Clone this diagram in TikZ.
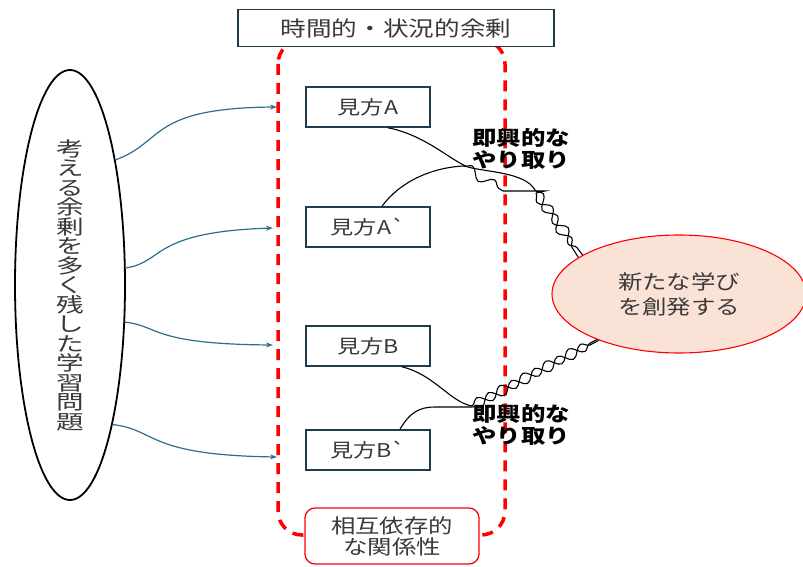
\documentclass[tikz,border=0pt]{standalone}
\usepackage{fontspec}
\setmainfont{Noto Sans CJK JP}[FakeStretch=1.22, Ligatures=TeXOff]
\newfontfamily\vfont{Noto Sans CJK JP}[FakeStretch=1.38]
\usetikzlibrary{shapes.geometric,arrows.meta,decorations.pathmorphing}
\definecolor{boxc}{HTML}{203C4C}
\definecolor{arrc}{HTML}{2C6E8F}
\definecolor{peach}{HTML}{FBE2D6}
\definecolor{txt}{HTML}{3A3A3A}
\begin{document}
\begin{tikzpicture}[x=1pt,y=-1pt,
  viewbox/.style={draw=boxc, line width=1.6pt, fill=white, minimum width=124pt, minimum height=40pt, inner sep=0pt, font=\fontsize{19}{22}\selectfont, text=txt},
  topbox/.style={draw=boxc, line width=1.6pt, fill=white, minimum width=316pt, minimum height=37pt, inner sep=0pt, font=\fontsize{21}{24}\selectfont, text=txt},
  relbox/.style={draw=red, line width=1.3pt, fill=white, rounded corners=10pt, minimum width=174pt, minimum height=56pt, inner sep=0pt, align=center, font=\fontsize{20}{21}\selectfont, text=txt},
  arr/.style={draw=arrc, line width=1.2pt, -{Stealth[length=7pt,width=5pt]}},
  wire/.style={draw=black, line width=1.1pt},
  snk/.style={wire, decorate, decoration={snake, segment length=26pt, amplitude=5pt}},
  snkm/.style={wire, decorate, decoration={snake, segment length=26pt, amplitude=5pt, mirror}},
  lab/.style={align=center, font=\fontsize{20}{22}\selectfont\bfseries, text=black, inner sep=0pt},
]
\useasboundingbox (0,0) rectangle (803,567);

% red dashed frame
\draw[red, line width=3.5pt, dash pattern=on 11pt off 8pt, rounded corners=24pt] (278,40) rectangle (505,535);

% top and bottom boxes
\node[topbox] (top) at (396,28) {時間的・状況的余剰};
\node[relbox] (rel) at (392,536) {相互依存的\\な関係性};

% left ellipse
\node[draw, ellipse, line width=1.8pt, minimum width=110pt, minimum height=430pt, inner sep=0pt, align=center, text=txt, font=\vfont\fontsize{20}{19.5}\selectfont] (prob) at (70,285)
  {考\\え\\る\\余\\剰\\を\\多\\く\\残\\し\\た\\学\\習\\問\\題};

% view boxes
\node[viewbox] (A) at (368,107) {見方A};
\node[viewbox] (Ab) at (368,227) {見方A`};
\node[viewbox] (B) at (368,346) {見方B};
\node[viewbox] (Bb) at (368,450) {見方B`};

% new learning ellipse
\node[draw=red, line width=1.1pt, fill=peach, ellipse, minimum width=254pt, minimum height=118pt, inner sep=0pt, align=center, text=txt, font=\fontsize{20}{25}\selectfont] (new) at (679,294) {新たな学び\\を創発する};

% arrow ends on the dashed frame
\coordinate (e1) at (277,107);
\coordinate (e2) at (273,228);
\coordinate (e3) at (273,345);
\coordinate (e4) at (277,457);
\draw[arr] (prob.70) .. controls (165,142) and (148,108) .. (e1);
\draw[arr] (prob.17) .. controls (165,262) and (150,232) .. (e2);
\draw[arr] (prob.-34) .. controls (160,326) and (150,344) .. (e3);
\draw[arr] (prob.-73) .. controls (158,430) and (145,455) .. (e4);

% wires
\coordinate (wa) at ([xshift=20pt]A.south);
\coordinate (wab) at ([xshift=14pt]Ab.north);
\coordinate (wb) at ([xshift=34pt]B.south);
\coordinate (wbb) at ([xshift=32pt]Bb.north);
\coordinate (ta1) at (535,190);
\coordinate (ta2) at (463,166);
\coordinate (ta3) at (503,191);
\coordinate (ta4) at (545,191);
\coordinate (ta5) at (536,193);
\coordinate (tb1) at (472,406);
\coordinate (tb2) at (472,407);

\draw[wire] (wa) .. controls (425,135) and (450,160) .. (468,167) .. controls (485,172) and (525,172) .. (ta1);
\draw[snk] (ta1) -- (new.160);
\draw[wire] (wab) .. controls (400,182) and (430,168) .. (ta2);
\draw[snk] (ta2) -- (ta3);
\draw[wire] (ta3) -- (ta4) -- (ta5);
\draw[snkm] (ta5) -- (new.158);

\draw[wire] (wb) .. controls (435,375) and (450,402) .. (tb1);
\draw[snk] (tb1) -- (new.-151);
\draw[wire] (wbb) .. controls (410,412) and (420,407) .. (435,407) -- (tb2);
\draw[snkm] (tb2) -- (new.-150);

% labels
\node[lab] (l1) at (521,149) {即興的な\\やり取り};
\node[lab] (l2) at (521,425) {即興的な\\やり取り};
\end{tikzpicture}
\end{document}
